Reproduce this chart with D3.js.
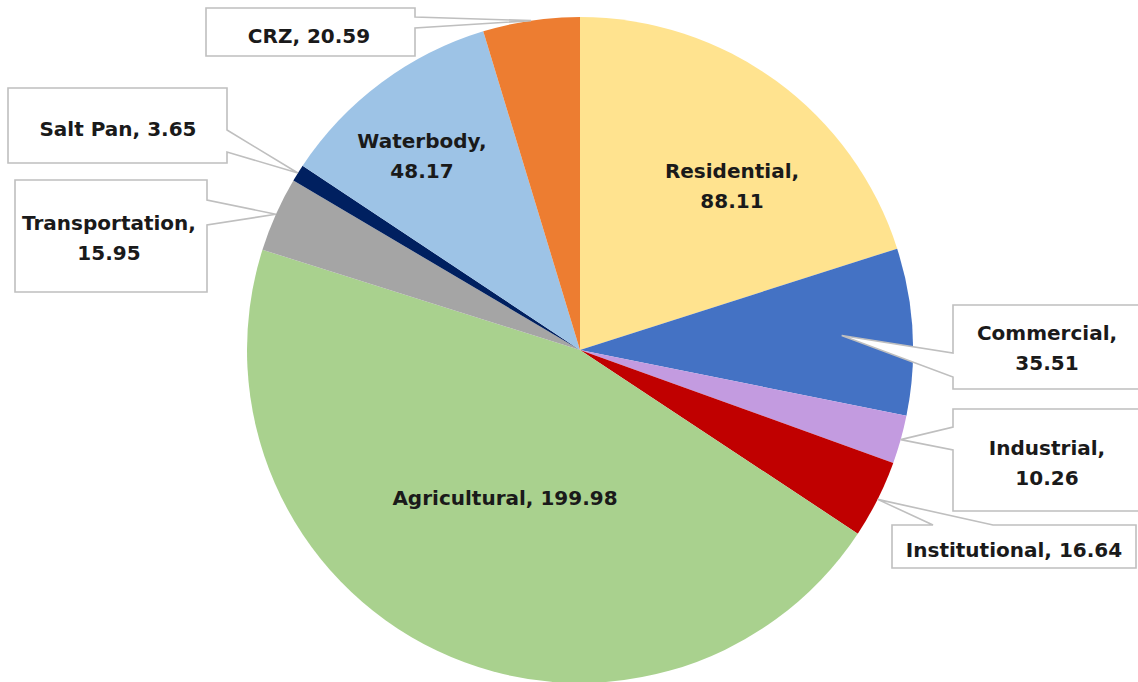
<!DOCTYPE html>
<html>
<head>
<meta charset="utf-8">
<script src="https://cdn.jsdelivr.net/npm/d3@7"></script>
<style>
  html, body { margin: 0; padding: 0; background: #ffffff; }
  svg { display: block; }
  text { font-family: "DejaVu Sans", "Lato", sans-serif; font-weight: 700; fill: #1a1a1a; }
</style>
</head>
<body>
<svg id="chart" width="1138" height="682"></svg>
<script>
// Land use areas, clockwise from 12 o'clock
const categories = ["Residential", "Commercial", "Industrial", "Institutional", "Agricultural",
                    "Transportation", "Salt Pan", "Waterbody", "CRZ"];
const areas = [88.11, 35.51, 10.26, 16.64, 199.98, 15.95, 3.65, 48.17, 20.59];
const valueLabels = ["88.11", "35.51", "10.26", "16.64", "199.98", "15.95", "3.65", "48.17", "20.59"];
const colors = ["#FFE38F", "#4472C4", "#C39BE0", "#C00000", "#A9D18E",
                "#A5A5A5", "#002060", "#9DC3E6", "#ED7D31"];

const W = 1138, H = 682;
const cx = 580, cy = 350, R = 333;

const svg = d3.select("#chart");

const pie = d3.pie().sort(null).value(d => d);
const arcs = pie(areas);
const arc = d3.arc().innerRadius(0).outerRadius(R);

const g = svg.append("g").attr("transform", `translate(${cx},${cy})`);
g.selectAll("path.slice")
  .data(arcs)
  .join("path")
  .attr("class", "slice")
  .attr("d", arc)
  .attr("fill", (d, i) => colors[i]);

// Label placement: inside labels use an anchor point; callouts use a box with a wedge
// pointing to the slice (tip at a fraction of the radius on the slice's mid angle).
const layout = {
  "Residential":    { type: "inside", x: 732, y: 178, lines: 2 },
  "Waterbody":      { type: "inside", x: 422, y: 148, lines: 2 },
  "Agricultural":   { type: "inside", x: 505, y: 505, lines: 1 },
  "Commercial":     { type: "callout", box: [953, 305, 1146, 389], side: "left",  a: [353, 377], tipR: 0.787, tx: 1047, ty: 340, lines: 2 },
  "Industrial":     { type: "callout", box: [953, 409, 1146, 511], side: "left",  a: [427, 450], tipR: 1.0, tx: 1047, ty: 455, lines: 2 },
  "Institutional":  { type: "callout", box: [892, 525, 1136, 568], side: "top",   a: [933, 993], tipR: 1.0, tx: 1014, ty: 557, lines: 1 },
  "Transportation": { type: "callout", box: [15, 180, 207, 292],   side: "right", a: [200, 225], tipR: 1.0, tx: 109, ty: 230, lines: 2 },
  "Salt Pan":       { type: "callout", box: [8, 88, 227, 163],     side: "right", a: [130, 152], tipR: 1.0, tx: 118, ty: 136, lines: 1 },
  "CRZ":            { type: "callout", box: [206, 8, 415, 56],     side: "right", a: [17, 28],   tipR: 1.0, tx: 309, ty: 43, lines: 1 }
};

function calloutPath(b, side, a, tip) {
  const [x0, y0, x1, y1] = b;
  const [tx, ty] = tip;
  const p = d3.path();
  if (side === "right") {
    p.moveTo(x0, y0); p.lineTo(x1, y0); p.lineTo(x1, a[0]); p.lineTo(tx, ty);
    p.lineTo(x1, a[1]); p.lineTo(x1, y1); p.lineTo(x0, y1); p.closePath();
  } else if (side === "left") {
    p.moveTo(x0, y0); p.lineTo(x1, y0); p.lineTo(x1, y1); p.lineTo(x0, y1);
    p.lineTo(x0, a[1]); p.lineTo(tx, ty); p.lineTo(x0, a[0]); p.closePath();
  } else {
    p.moveTo(x0, y0); p.lineTo(a[0], y0); p.lineTo(tx, ty); p.lineTo(a[1], y0);
    p.lineTo(x1, y0); p.lineTo(x1, y1); p.lineTo(x0, y1); p.closePath();
  }
  return p.toString();
}

const labels = svg.append("g");
const lineGap = 30;

arcs.forEach((d, i) => {
  const name = categories[i];
  const L = layout[name];
  const mid = (d.startAngle + d.endAngle) / 2;
  let tx, ty;
  if (L.type === "callout") {
    const r = R * L.tipR;
    const tip = [cx + r * Math.sin(mid), cy - r * Math.cos(mid)];
    labels.append("path")
      .attr("d", calloutPath(L.box, L.side, L.a, tip))
      .attr("fill", "#ffffff")
      .attr("stroke", "#BFBFBF")
      .attr("stroke-width", 1.6)
      .attr("stroke-linejoin", "miter");
    tx = L.tx; ty = L.ty;
  } else {
    tx = L.x; ty = L.y;
  }
  const t = labels.append("text")
    .attr("x", tx).attr("y", ty)
    .attr("text-anchor", "middle")
    .attr("font-size", 20);
  if (L.lines === 2) {
    t.append("tspan").attr("x", tx).attr("y", ty).text(name + ",");
    t.append("tspan").attr("x", tx).attr("y", ty + lineGap).text(valueLabels[i]);
  } else {
    t.text(name + ", " + valueLabels[i]);
  }
});
</script>
</body>
</html>
